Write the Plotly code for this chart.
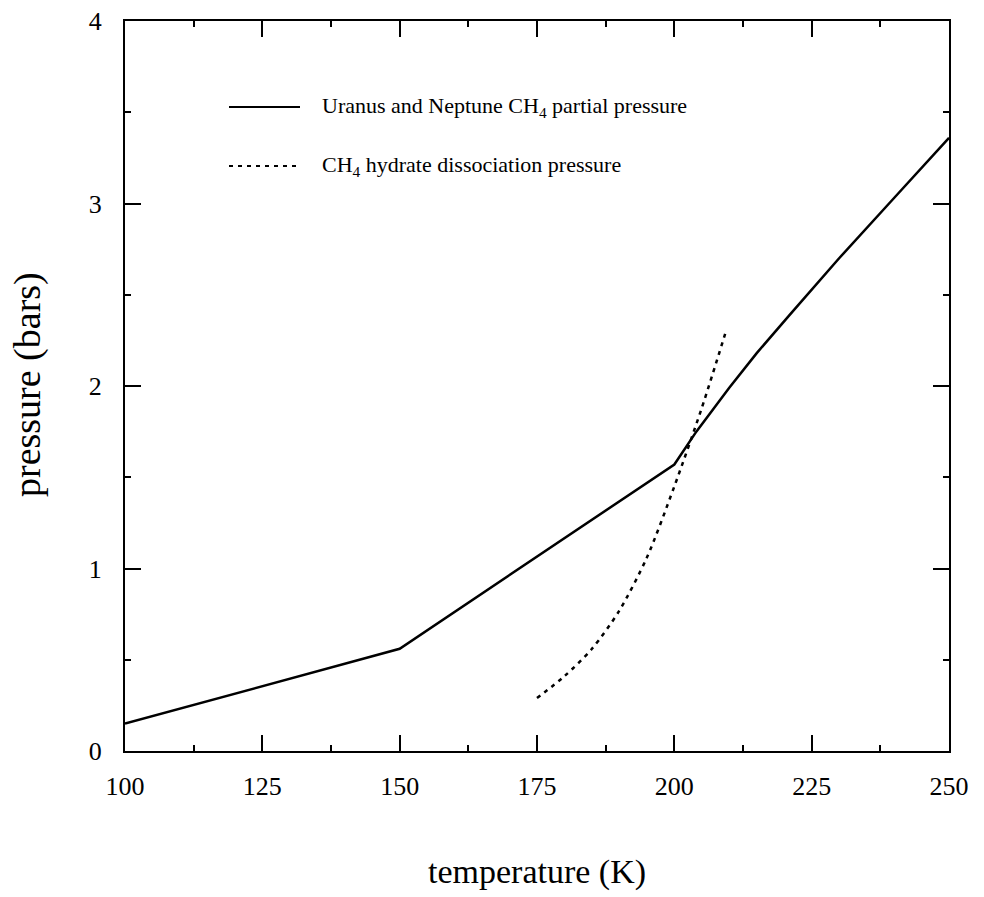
import plotly.graph_objects as go

# Data
temp_partial = [100, 150, 200, 204, 210, 215, 221, 230, 240, 250]
press_partial = [0.15, 0.56, 1.57, 1.75, 1.99, 2.18, 2.39, 2.70, 3.03, 3.36]

temp_hydrate = [175, 180, 185, 190, 195, 200, 205, 209.5]
press_hydrate = [0.29, 0.41, 0.56, 0.77, 1.06, 1.45, 1.88, 2.31]

x_ticks = [100, 125, 150, 175, 200, 225, 250]
y_ticks = [0, 1, 2, 3, 4]

legend_labels = ["Uranus and Neptune CH<sub>4</sub> partial pressure",
                 "CH<sub>4</sub> hydrate dissociation pressure"]

FONT = "Liberation Serif, Times New Roman, serif"

W, H = 984, 897
# the page body shifts the figure by about 8px; compensate
DX, DY = 8, 8
plot_l, plot_r, plot_t, plot_b = 125 - DX, 949 - DX, 21 - DY, 751 - DY

fig = go.Figure()
fig.add_trace(go.Scatter(x=temp_partial, y=press_partial, mode="lines",
                         line=dict(color="black", width=2.5), showlegend=False))
fig.add_trace(go.Scatter(x=temp_hydrate, y=press_hydrate, mode="lines",
                         line=dict(color="black", width=2.5, dash="4px,5px", shape="spline",
                                   smoothing=0.8),
                         showlegend=False))

axis_common = dict(
    showgrid=False, zeroline=False, showline=True, linecolor="black", linewidth=2,
    mirror="allticks", ticks="inside", ticklen=16, tickwidth=1.5, tickcolor="black",
    tickfont=dict(family=FONT, size=26, color="black"), ticklabeloverflow="allow",
    automargin=False,
    minor=dict(ticks="inside", ticklen=6, tickwidth=1.5, tickcolor="black", showgrid=False),
)

fig.update_xaxes(range=[100, 250], tickvals=x_ticks, minor_dtick=12.5, ticklabelstandoff=11, **axis_common)
fig.update_yaxes(range=[0, 4], tickvals=y_ticks, minor_dtick=0.5, ticklabelstandoff=16, **axis_common)

# convert on-screen pixel positions to paper coords
def px(x): return (x - DX - plot_l) / (plot_r - plot_l)
def py(y): return (plot_b - (y - DY)) / (plot_b - plot_t)

fig.add_shape(type="line", xref="paper", yref="paper", x0=px(229), x1=px(300), y0=py(107), y1=py(107),
              line=dict(color="black", width=2))
fig.add_shape(type="line", xref="paper", yref="paper", x0=px(229), x1=px(300), y0=py(166), y1=py(166),
              line=dict(color="black", width=2, dash="4px,5px"))
fig.add_annotation(xref="paper", yref="paper", x=px(320), y=py(107), xanchor="left", yanchor="middle",
                   text=legend_labels[0], showarrow=False, font=dict(family=FONT, size=22, color="black"))
fig.add_annotation(xref="paper", yref="paper", x=px(320), y=py(166), xanchor="left", yanchor="middle",
                   text=legend_labels[1], showarrow=False, font=dict(family=FONT, size=22, color="black"))

# Axis titles
fig.add_annotation(xref="paper", yref="paper", x=px(537), y=py(872), xanchor="center", yanchor="middle",
                   text="temperature (K)", showarrow=False, font=dict(family=FONT, size=34, color="black"))
fig.add_annotation(xref="paper", yref="paper", x=px(28), y=py(385), xanchor="center", yanchor="middle",
                   text="pressure (bars)", textangle=-90, showarrow=False, borderpad=0,
                   font=dict(family=FONT, size=38, color="black"))

fig.update_layout(
    width=W, height=H,
    margin=dict(l=plot_l, r=W - plot_r, t=plot_t, b=H - plot_b),
    paper_bgcolor="white", plot_bgcolor="white",
    font=dict(family=FONT, color="black"),
)

fig.write_html("out.html")
